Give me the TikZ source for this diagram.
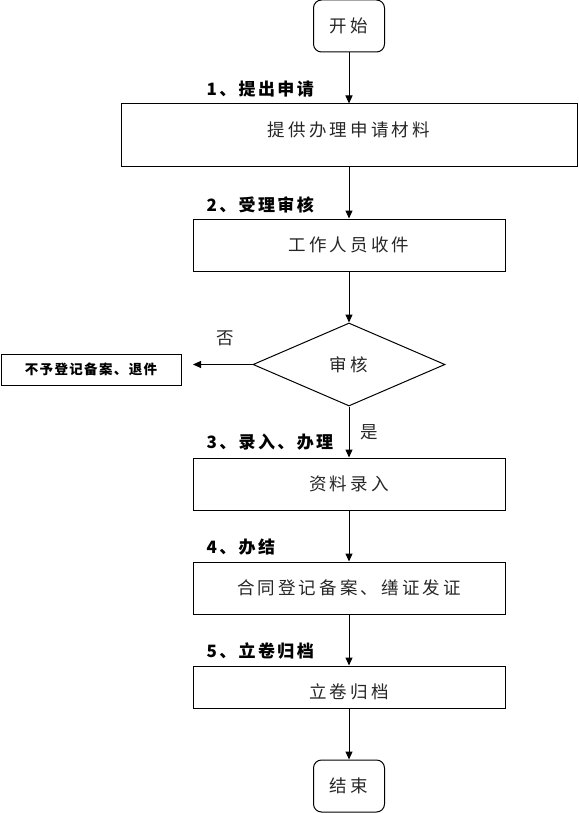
\documentclass[tikz,border=0pt]{standalone}
\usepackage{fontspec}
\newfontfamily\cjk[LetterSpace=18]{Noto Sans CJK SC}
\newfontfamily\cjklabel[LetterSpace=14]{Noto Sans CJK SC}
\newfontfamily\cjktight[LetterSpace=10]{Noto Sans CJK SC}
\usetikzlibrary{shapes.geometric,arrows.meta}

\begin{document}
\begin{tikzpicture}[x=1pt,y=-1pt,
    every node/.style={font=\cjk\fontsize{17.5}{19}\selectfont,text=black!85},
    box/.style={draw=black,line width=1pt,minimum width=312pt,minimum height=52pt,inner sep=0pt},
    term/.style={box,rounded corners=8pt,minimum width=71pt},
    steplabel/.style={anchor=west,text=black,font=\cjklabel\bfseries\fontsize{17}{19}\selectfont},
    flow/.style={line width=1pt,-{Triangle[length=8pt,width=7pt]}}]
    \useasboundingbox (0,0) rectangle (578,813);
    % main column
    \node[term] (start) at (349,26) {开始};
    \node[box,minimum width=456pt,minimum height=63pt,text height=15pt,text depth=13pt] (apply) at (349,135.5) {提供办理申请材料};
    \node[box] (receive) at (349,245) {工作人员收件};
    \node[draw=black,line width=1pt,diamond,aspect=2.3,minimum width=192pt,minimum height=83pt,inner sep=0pt] (audit) at (349,364.5) {审核};
    \node[box] (input) at (349,484) {资料录入};
    \node[box] (issue) at (349,588) {合同登记备案、缮证发证};
    \node[box,minimum height=42pt,text height=25pt,text depth=2pt] (archive) at (349,687) {立卷归档};
    \node[term] (finish) at (349,786) {结束};
    % rejected branch
    \node[draw=black,line width=1pt,minimum width=180pt,minimum height=31pt,inner sep=0pt,text=black,
          font=\cjktight\bfseries\fontsize{13.5}{15}\selectfont] (reject) at (91,369.5) {不予登记备案、退件};
    \coordinate (rejectin) at (193,364.5);
    % step labels
    \node[steplabel] (stepone) at (203,89) {1、提出申请};
    \node[steplabel] (steptwo) at (203,205) {2、受理审核};
    \node[steplabel] (stepthree) at (203,442) {3、录入、办理};
    \node[steplabel] (stepfour) at (203,547) {4、办结};
    \node[steplabel] (stepfive) at (203,651) {5、立卷归档};
    \node (no) at (225,338) {否};
    \node (yes) at (369,432) {是};
    % connectors
    \draw[flow] (start) -- (apply);
    \draw[flow] (apply) -- (receive);
    \draw[flow] (receive) -- (audit);
    \draw[flow] (audit) -- (rejectin);
    \draw[flow] (audit) -- (input);
    \draw[flow] (input) -- (issue);
    \draw[flow] (issue) -- (archive);
    \draw[flow] (archive) -- (finish);
\end{tikzpicture}
\end{document}
